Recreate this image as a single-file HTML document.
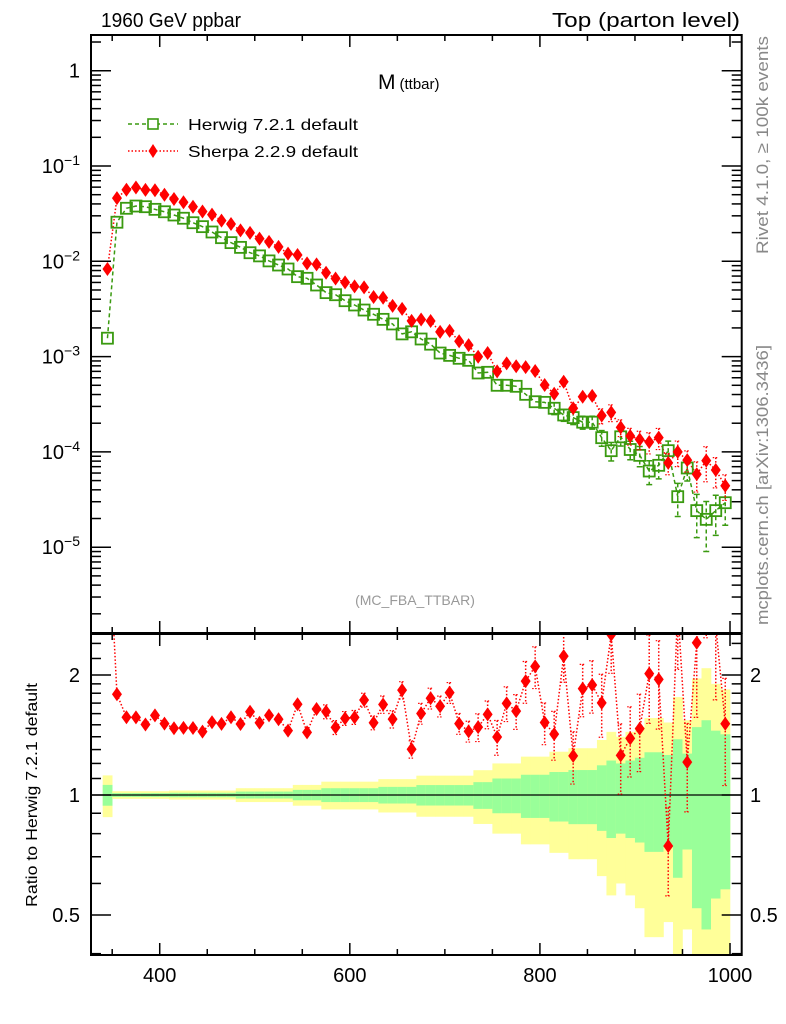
<!DOCTYPE html>
<html><head><meta charset="utf-8"><style>
html,body{margin:0;background:#fff;width:786px;height:1024px;overflow:hidden}
svg{display:block;font-family:"Liberation Sans",sans-serif}
</style></head><body>
<svg id="chart" width="786" height="1024" viewBox="0 0 786 1024" xmlns="http://www.w3.org/2000/svg">
<defs>
<clipPath id="clipMain"><rect x="91" y="35" width="650.7" height="598"/></clipPath>
<clipPath id="clipRatio"><rect x="91" y="634" width="650.7" height="321"/></clipPath>
</defs>
<rect width="786" height="1024" fill="#fff"/>
<g id="ratioBands" clip-path="url(#clipRatio)"></g>
<line x1="91" x2="741.7" y1="795" y2="795" stroke="#000" stroke-width="1.3"/>
<g id="mainMarks" clip-path="url(#clipMain)"></g>
<g id="ratioMarks" clip-path="url(#clipRatio)"></g>
<g id="axes"></g>
<rect x="91" y="35" width="650.7" height="598" fill="none" stroke="#000" stroke-width="2"/>
<rect x="91" y="634" width="650.7" height="321" fill="none" stroke="#000" stroke-width="2"/>
<text x="101" y="27" font-size="20" textLength="140" lengthAdjust="spacingAndGlyphs">1960 GeV ppbar</text>
<text x="740" y="27" font-size="20" text-anchor="end" textLength="188" lengthAdjust="spacingAndGlyphs">Top (parton level)</text>
<text x="378" y="89" font-size="21">M<tspan font-size="15" dx="4">(ttbar)</tspan></text>
<g>
<g>
<line x1="128" x2="178" y1="124" y2="124" stroke="#3a9a10" stroke-width="1.5" stroke-dasharray="4,3"/>
<rect x="148" y="119" width="10" height="10" fill="#fff" stroke="#3a9a10" stroke-width="1.6"/>
<text x="188" y="130" font-size="16" textLength="170" lengthAdjust="spacingAndGlyphs">Herwig 7.2.1 default</text>
</g>
<g>
<line x1="128" x2="178" y1="151" y2="151" stroke="#f00" stroke-width="1.5" stroke-dasharray="1.5,2"/>
<polygon points="153,144 157.5,151 153,158 148.5,151" fill="#f00"/>
<text x="188" y="157" font-size="16" textLength="170" lengthAdjust="spacingAndGlyphs">Sherpa 2.2.9 default</text>
</g>
</g>
<text x="415" y="605" font-size="14" fill="#999" text-anchor="middle">(MC_FBA_TTBAR)</text>
<text transform="translate(768,145) rotate(-90)" font-size="17" fill="#888" text-anchor="middle" textLength="218" lengthAdjust="spacingAndGlyphs">Rivet 4.1.0, ≥ 100k events</text>
<text transform="translate(768,485) rotate(-90)" font-size="17" fill="#888" text-anchor="middle" textLength="280" lengthAdjust="spacingAndGlyphs">mcplots.cern.ch [arXiv:1306.3436]</text>
<text transform="translate(37,795) rotate(-90)" font-size="16" text-anchor="middle" textLength="224" lengthAdjust="spacingAndGlyphs">Ratio to Herwig 7.2.1 default</text>
</svg>
<script>
const binCenters = [345,355,365,375,385,395,405,415,425,435,445,455,465,475,485,495,505,515,525,535,545,555,565,575,585,595,605,615,625,635,645,655,665,675,685,695,705,715,725,735,745,755,765,775,785,795,805,815,825,835,845,855,865,875,885,895,905,915,925,935,945,955,965,975,985,995];
const herwigValues = [1.56e-3,2.57e-2,3.60e-2,3.80e-2,3.74e-2,3.51e-2,3.31e-2,3.06e-2,2.83e-2,2.54e-2,2.31e-2,2.03e-2,1.77e-2,1.57e-2,1.40e-2,1.23e-2,1.14e-2,1.01e-2,9.14e-3,8.30e-3,6.90e-3,6.63e-3,5.64e-3,4.69e-3,4.46e-3,3.86e-3,3.48e-3,3.08e-3,2.78e-3,2.46e-3,2.20e-3,1.73e-3,1.82e-3,1.53e-3,1.35e-3,1.09e-3,1.03e-3,9.60e-4,9.14e-4,6.73e-4,6.84e-4,5.00e-4,5.00e-4,4.88e-4,4.02e-4,3.36e-4,3.31e-4,2.87e-4,2.44e-4,2.29e-4,2.05e-4,2.05e-4,1.41e-4,1.03e-4,1.44e-4,1.06e-4,9.20e-5,6.30e-5,7.23e-5,1.03e-4,3.39e-5,6.78e-5,2.42e-5,1.96e-5,2.42e-5,2.93e-5];
const sherpaValues = [8.3e-3,4.60e-2,5.64e-2,5.95e-2,5.62e-2,5.56e-2,5.00e-2,4.50e-2,4.17e-2,3.74e-2,3.33e-2,3.09e-2,2.67e-2,2.46e-2,2.11e-2,1.99e-2,1.73e-2,1.60e-2,1.416e-2,1.204e-2,1.165e-2,9.52e-3,9.27e-3,7.59e-3,6.59e-3,6.01e-3,5.45e-3,5.33e-3,4.22e-3,4.15e-3,3.41e-3,3.17e-3,2.37e-3,2.45e-3,2.36e-3,1.82e-3,1.86e-3,1.45e-3,1.32e-3,9.96e-4,1.09e-3,6.99e-4,8.49e-4,7.92e-4,7.76e-4,7.06e-4,5.03e-4,4.08e-4,5.44e-4,2.87e-4,3.79e-4,3.87e-4,2.40e-4,2.6e-4,1.81e-4,1.47e-4,1.35e-4,1.27e-4,1.41e-4,7.67e-5,1.0e-4,8.2e-5,5.83e-5,8.1e-5,6.45e-5,4.42e-5];
const herwigRelErr = [0.06,0.011,0.011,0.011,0.011,0.011,0.011,0.013,0.013,0.013,0.013,0.013,0.013,0.013,0.02,0.02,0.02,0.02,0.02,0.02,0.03,0.03,0.03,0.04,0.04,0.04,0.04,0.04,0.04,0.048,0.048,0.048,0.048,0.059,0.059,0.059,0.059,0.059,0.059,0.077,0.077,0.10,0.10,0.10,0.124,0.124,0.124,0.142,0.142,0.155,0.155,0.155,0.187,0.22,0.2,0.22,0.24,0.28,0.28,0.26,0.38,0.27,0.48,0.54,0.45,0.42];
const sherpaRelErr = [0.05,0.012,0.012,0.012,0.012,0.012,0.012,0.014,0.014,0.014,0.014,0.014,0.014,0.014,0.02,0.02,0.02,0.02,0.02,0.02,0.03,0.03,0.03,0.04,0.04,0.04,0.04,0.04,0.04,0.05,0.05,0.05,0.05,0.06,0.06,0.06,0.06,0.06,0.06,0.08,0.08,0.10,0.10,0.10,0.12,0.12,0.12,0.14,0.14,0.15,0.15,0.15,0.18,0.2,0.2,0.2,0.22,0.25,0.25,0.25,0.3,0.25,0.35,0.4,0.35,0.3];
const xTickMajor = [400,600,800,1000];
const yMainExponents = [0,-1,-2,-3,-4,-5];
const ratioTickLabels = ["0.5","1","2"];
const ratioTickValues = [0.5,1,2];

const NS = "http://www.w3.org/2000/svg";
const X0 = 327.7, X1 = 1012.3, PX0 = 91, PX1 = 741.7;
function xpx(v){ return PX0 + (v - X0) * (PX1 - PX0) / (X1 - X0); }
function ymain(v){ return 70.7 - Math.log10(v) * 95.3; }
function yrat(r){ return 795 - Math.log10(r) * 398.7; }
function mk(tag, attrs, parent){ const e = document.createElementNS(NS, tag); for (const k in attrs) e.setAttribute(k, attrs[k]); parent.appendChild(e); return e; }
const halfBin = 5;
const bands = document.getElementById('ratioBands');
const mainG = document.getElementById('mainMarks');
const ratG = document.getElementById('ratioMarks');
const axes = document.getElementById('axes');
const GREEN = "#3a9a10", RED = "#f00";

binCenters.forEach((c, i) => {
  const e = herwigRelErr[i];
  const xl = xpx(c - halfBin), xr = xpx(c + halfBin);
  const yTop = yrat(1 + 2*e), yBot = yrat(Math.max(1 - 2*e, 0.05));
  const r1 = mk('rect', {x: xl, y: yTop, width: xr - xl + 0.3, height: yBot - yTop, fill: '#ffff99'}, bands);
  
  
  const gTop = yrat(1 + e), gBot = yrat(Math.max(1 - e, 0.05));
  const r2 = mk('rect', {x: xl, y: gTop, width: xr - xl + 0.3, height: gBot - gTop, fill: '#99ff99'}, bands);
  
  
});

const hPts = binCenters.map((c,i) => xpx(c) + ',' + ymain(herwigValues[i])).join(' ');
const hl = mk('polyline', {points: hPts, fill: 'none', stroke: GREEN, 'stroke-width': 1.5, 'stroke-dasharray': '4,3'}, mainG);


const sPts = binCenters.map((c,i) => xpx(c) + ',' + ymain(sherpaValues[i])).join(' ');
const sl = mk('polyline', {points: sPts, fill: 'none', stroke: RED, 'stroke-width': 1.5, 'stroke-dasharray': '1.5,2'}, mainG);



binCenters.forEach((c, i) => {
  const x = xpx(c);
  const hv = herwigValues[i], he = herwigRelErr[i];
  const hy = ymain(hv), hyu = ymain(hv*(1+he)), hyd = ymain(hv*Math.max(1-he,0.01));
  if (hyd - hyu > 11) {
    mk('line', {x1:x, x2:x, y1:hyu, y2:hyd, stroke:GREEN, 'stroke-width':1.5, 'stroke-dasharray':'4,3'}, mainG);
    mk('line', {x1:x-3, x2:x+3, y1:hyu, y2:hyu, stroke:GREEN, 'stroke-width':1.5}, mainG);
    mk('line', {x1:x-3, x2:x+3, y1:hyd, y2:hyd, stroke:GREEN, 'stroke-width':1.5}, mainG);
  }
  const sq = mk('rect', {x:x-5.5, y:hy-5.5, width:11, height:11, fill:'none', stroke:GREEN, 'stroke-width':1.8}, mainG);
  
  
  const sv = sherpaValues[i], se = sherpaRelErr[i];
  const sy = ymain(sv), syu = ymain(sv*(1+se)), syd = ymain(sv*Math.max(1-se,0.01));
  if (syd - syu > 13) {
    mk('line', {x1:x, x2:x, y1:syu, y2:syd, stroke:RED, 'stroke-width':1.5, 'stroke-dasharray':'1.5,2'}, mainG);
    mk('line', {x1:x-3, x2:x+3, y1:syu, y2:syu, stroke:RED, 'stroke-width':1.2, 'stroke-dasharray':'1.5,1.5'}, mainG);
    mk('line', {x1:x-3, x2:x+3, y1:syd, y2:syd, stroke:RED, 'stroke-width':1.2, 'stroke-dasharray':'1.5,1.5'}, mainG);
  }
  const d = mk('polygon', {points: `${x},${sy-7} ${x+5},${sy} ${x},${sy+7} ${x-5},${sy}`, fill: RED}, mainG);
  
  
});

const ratios = binCenters.map((c,i) => sherpaValues[i] / herwigValues[i]);
const rPts = binCenters.map((c,i) => xpx(c) + ',' + yrat(ratios[i])).join(' ');
const rl = mk('polyline', {points: rPts, fill:'none', stroke:RED, 'stroke-width':1.5, 'stroke-dasharray':'1.5,2'}, ratG);


binCenters.forEach((c, i) => {
  const x = xpx(c), r = ratios[i], e = sherpaRelErr[i];
  const y = yrat(r), yu = yrat(r*(1+e)), yd = yrat(r*Math.max(1-e,0.01));
  if (yd - yu > 13) {
    mk('line', {x1:x, x2:x, y1:yu, y2:yd, stroke:RED, 'stroke-width':1.5, 'stroke-dasharray':'1.5,2'}, ratG);
    mk('line', {x1:x-3, x2:x+3, y1:yu, y2:yu, stroke:RED, 'stroke-width':1.2, 'stroke-dasharray':'1.5,1.5'}, ratG);
    mk('line', {x1:x-3, x2:x+3, y1:yd, y2:yd, stroke:RED, 'stroke-width':1.2, 'stroke-dasharray':'1.5,1.5'}, ratG);
  }
  const d = mk('polygon', {points: `${x},${y-7} ${x+5},${y} ${x},${y+7} ${x-5},${y}`, fill: RED}, ratG);
  
  
});

for (let v = 350; v <= 1000; v += 50) {
  const x = xpx(v), major = xTickMajor.includes(v);
  const L = major ? 12 : 6;
  [[633,-1],[35,1],[955,-1],[634,1]].forEach(([y,dir]) => {
    mk('line', {x1:x, x2:x, y1:y, y2:y + dir*L, stroke:'#000', 'stroke-width':1.5}, axes);
  });
}
xTickMajor.forEach(v => {
  const t = mk('text', {x: xpx(v), y: 982, 'font-size': 20, 'text-anchor': 'middle'}, axes);
  t.textContent = String(v);
  
  
});
for (let ex = 0; ex >= -6; ex--) {
  for (let m = 1; m <= 9; m++) {
    const y = ymain(m * Math.pow(10, ex));
    if (y < 35 || y > 633) continue;
    const L = m === 1 ? 20 : 10;
    mk('line', {x1:91, x2:91+L, y1:y, y2:y, stroke:'#000', 'stroke-width':1.5}, axes);
    mk('line', {x1:741.7, x2:741.7-L, y1:y, y2:y, stroke:'#000', 'stroke-width':1.5}, axes);
  }
}
yMainExponents.forEach(ex => {
  const y = ymain(Math.pow(10, ex));
  const t = mk('text', {x: 80, y: y + 7, 'font-size': 20, 'text-anchor': 'end'}, axes);
  
  
  if (ex === 0) t.textContent = '1';
  else { t.textContent = '10'; const s = mk('tspan', {dy: -8, 'font-size': 14}, t); s.textContent = '\u2212' + (-ex); }
});
[0.4,0.5,0.6,0.7,0.8,0.9,1,2].forEach(v => {
  const y = yrat(v); if (y < 634 || y > 955) return;
  const L = ratioTickValues.includes(v) ? 20 : 10;
  mk('line', {x1:91, x2:91+L, y1:y, y2:y, stroke:'#000', 'stroke-width':1.5}, axes);
  mk('line', {x1:741.7, x2:741.7-L, y1:y, y2:y, stroke:'#000', 'stroke-width':1.5}, axes);
});
[1.1,1.2,1.3,1.4,1.5,1.6,1.7,1.8,1.9,2.2,2.4].forEach(v => {
  const y = yrat(v);
  mk('line', {x1:91, x2:101, y1:y, y2:y, stroke:'#000', 'stroke-width':1.5}, axes);
  mk('line', {x1:741.7, x2:731.7, y1:y, y2:y, stroke:'#000', 'stroke-width':1.5}, axes);
});
ratioTickValues.forEach((v, k) => {
  const y = yrat(v) + 7;
  const a = mk('text', {x: 80, y: y, 'font-size': 20, 'text-anchor': 'end'}, axes);
  a.textContent = ratioTickLabels[k];
  
  
  const b = mk('text', {x: 750, y: y, 'font-size': 20}, axes);
  b.textContent = ratioTickLabels[k];
  
  
});
</script>
</body></html>
